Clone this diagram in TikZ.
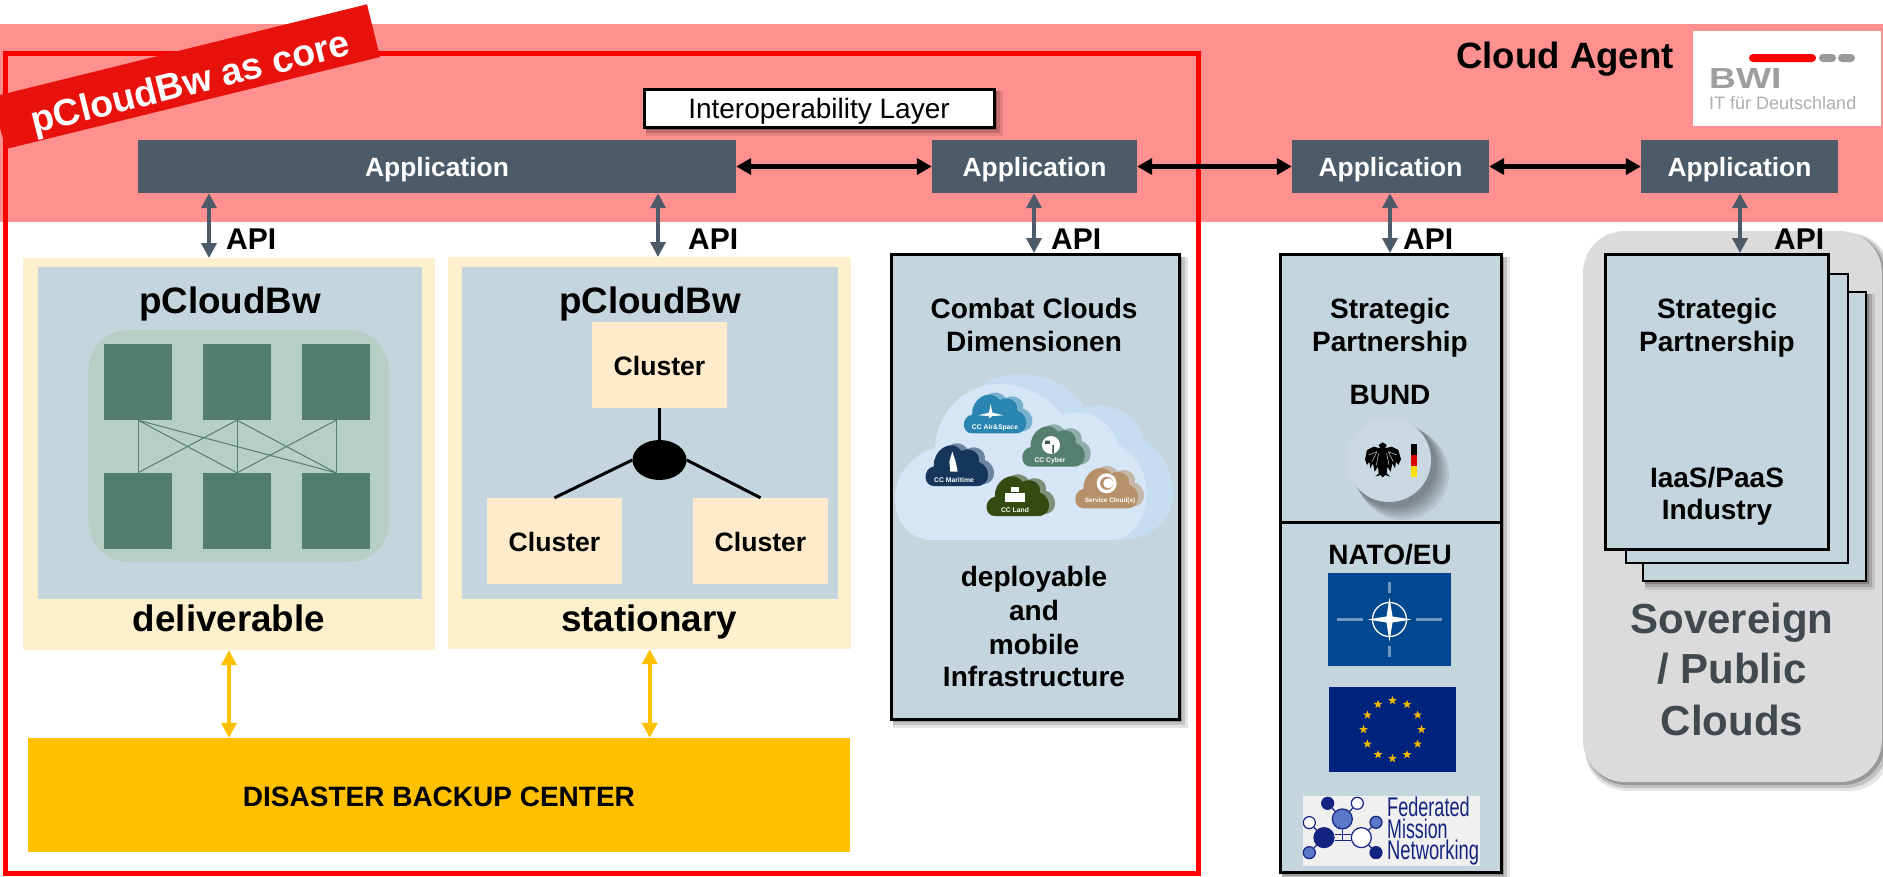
\documentclass[tikz,border=0pt]{standalone}
\usepackage{fontspec}
\setmainfont{Liberation Sans}
\usetikzlibrary{arrows.meta,shapes.geometric,calc}
\definecolor{pinkband}{HTML}{FF9090}
\definecolor{redline}{HTML}{FF0000}
\definecolor{bannerred}{HTML}{E8120C}
\definecolor{slate}{HTML}{4D5B69}
\definecolor{creampanel}{HTML}{FEF0CD}
\definecolor{bluepanel}{HTML}{C5D5DE}
\definecolor{greenpanel}{HTML}{B5CFC4}
\definecolor{greenbox}{HTML}{537D6C}
\definecolor{clusterbox}{HTML}{FFEACC}
\definecolor{amber}{HTML}{FFC000}
\definecolor{greypanel}{HTML}{DBDBDB}
\definecolor{greytext}{HTML}{404A4E}
\definecolor{natoblue}{HTML}{004990}
\definecolor{natoline}{HTML}{6F98C4}
\definecolor{eublue}{HTML}{00247D}
\definecolor{eustar}{HTML}{F2B800}
\definecolor{fmnnavy}{HTML}{14237F}
\definecolor{fmnblue}{HTML}{5B78C8}
\definecolor{fmnback}{HTML}{F0F0F0}
\definecolor{cloudfront}{HTML}{D6E6F6}
\definecolor{cloudback}{HTML}{C6DCF0}
\definecolor{ccair}{HTML}{2A86B0}
\definecolor{cccyber}{HTML}{557F6E}
\definecolor{ccsea}{HTML}{16365C}
\definecolor{ccland}{HTML}{344A10}
\definecolor{ccservice}{HTML}{B69068}
\newcommand{\fsz}[1]{\fontsize{#1}{#1}\selectfont}
\newcommand{\cloudpath}{(.14,1) .. controls (-.03,1) and (-.04,.6) .. (.14,.55) .. controls (.12,.2) and (.4,-.12) .. (.58,.2) .. controls (.68,.1) and (.88,.2) .. (.85,.45) .. controls (1.05,.55) and (1.05,1) .. (.82,1) -- cycle}
\newcommand{\smallcloud}[5]{%
  \begin{scope}[shift={(#1+6,#2-2)},x=#3pt,y=-#4pt]
    \fill[#5!55!cloudfront] \cloudpath;
  \end{scope}
  \begin{scope}[shift={(#1,#2)},x=#3pt,y=-#4pt]
    \fill[#5] \cloudpath;
  \end{scope}}
\newcommand{\softrect}[5][]{%
  \fill[black,opacity=.10,#1] (#2+2,#3+2) rectangle (#4+9,#5+9);
  \fill[black,opacity=.15,#1] (#2+2,#3+2) rectangle (#4+6,#5+6);
  \fill[black,opacity=.22,#1] (#2+2,#3+2) rectangle (#4+3,#5+3);}
\tikzset{
  x=1pt,y=-1pt,
  appbox/.style={fill=slate,draw=none,text=white,font=\bfseries\fsz{26.4},inner sep=0pt,text height=19pt,text depth=0pt},
  apilabel/.style={font=\bfseries\fsz{30},anchor=base west,inner sep=0pt},
  apiarrow/.style={draw=slate,line width=4pt,{Triangle[length=15pt,width=15pt]}-{Triangle[length=15pt,width=15pt]}},
  linkarrow/.style={draw=black,line width=4.6pt,{Triangle[length=15pt,width=16pt]}-{Triangle[length=15pt,width=16pt]}},
  amberarrow/.style={draw=amber,line width=3.8pt,{Triangle[length=15pt,width=15pt]}-{Triangle[length=15pt,width=15pt]}},
  cream/.style={fill=creampanel,draw=none,inner sep=0pt},
  bluebox/.style={fill=bluepanel,draw=none,inner sep=0pt},
  framedbox/.style={fill=bluepanel,draw=black,line width=3pt,inner sep=0pt},
  darkbox/.style={fill=greenbox,draw=none,inner sep=0pt},
  meshline/.style={draw=greenbox,line width=1pt},
  clusternode/.style={fill=clusterbox,draw=none,font=\bfseries\fsz{26.6},inner sep=0pt,text height=20pt,text depth=0pt},
  treeline/.style={draw=black,line width=3pt},
  heading/.style={font=\bfseries\fsz{36.8},inner sep=0pt,anchor=base},
  midtext/.style={font=\bfseries\fsz{28},inner sep=0pt,anchor=base},
  bigtext/.style={font=\bfseries\fsz{42},text=greytext,inner sep=0pt,anchor=base},
  cloudtext/.style={font=\bfseries\fsz{6.8},text=white,inner sep=0pt},
  logotext/.style={inner sep=0pt,anchor=base west},
  fmndisc/.style={circle,draw=fmnnavy,line width=1.2pt,inner sep=0pt},
  fmnlink/.style={draw=fmnnavy,line width=1.2pt},
  fmntext/.style={font=\fsz{27},text=fmnnavy,inner sep=0pt,anchor=base west},
  eustarnode/.style={star,star points=5,star point ratio=2.4,fill=eustar,draw=none,inner sep=0pt,minimum size=9pt},
  flagcross/.style={draw=natoline,line width=2.7pt},
}
\begin{document}
\begin{tikzpicture}
\useasboundingbox (0,0) rectangle (1883,876);
% cloud agent band
\fill[pinkband] (0,24) rectangle (1883,222);
% sovereign panel
\softrect[rounded corners=42pt]{1583}{231}{1882}{782}
\node[fill=greypanel,draw=none,rounded corners=42pt,inner sep=0pt,minimum width=299pt,minimum height=551pt] (sovpanel) at (1732.5,506.5) {};
% pcloud frame
\draw[redline,line width=5pt] (5,53.5) rectangle (1198,873.5);
% banner
\fill[bannerred] (367,4.3) -- (380,57) -- (6,149) -- (0,128) -- (0,95) -- cycle;
\node[rotate=14,text=white,font=\bfseries\fsz{37.5},inner sep=0pt] (banner) at (191,85) {pCloudBw as core};
% title and logo
\node[font=\bfseries\fsz{36.6},anchor=base west,inner sep=0pt] (agent) at (1456,68) {Cloud Agent};
\fill[white] (1693,31) rectangle (1881,126);
\fill[redline,rounded corners=4pt] (1749,54) rectangle (1816,62);
\fill[black!40,rounded corners=4pt] (1819,54) rectangle (1836,62);
\fill[black!40,rounded corners=4pt] (1838,54) rectangle (1855,62);
\node[logotext,text=black!38,font=\bfseries\fsz{29}] (bwi) at (1709,88) {\scalebox{1.28}[1]{BWI}};
\node[logotext,text=black!32,font=\fsz{18}] (deutsch) at (1709,109) {IT für Deutschland};
% interoperability layer
\softrect{644}{89}{994}{127}
\node[fill=white,draw=black,line width=3pt,font=\fsz{28},inner sep=0pt,text height=20.6pt,text depth=0pt,minimum width=350pt,minimum height=38pt] (interop) at (819,108) {Interoperability Layer};
% applications
\node[appbox,minimum width=598pt,minimum height=53pt] (app1) at (437,166.5) {Application};
\node[appbox,minimum width=205pt,minimum height=53pt] (app2) at (1034.5,166.5) {Application};
\node[appbox,minimum width=197pt,minimum height=53pt] (app3) at (1390.5,166.5) {Application};
\node[appbox,minimum width=197pt,minimum height=53pt] (app4) at (1739.5,166.5) {Application};
\draw[linkarrow] (app1.east) -- (app2.west);
\draw[linkarrow] (app2.east) -- (app3.west);
\draw[linkarrow] (app3.east) -- (app4.west);
% deliverable panel
\node[cream,minimum width=412pt,minimum height=392pt] (panelA) at (229,454) {};
\node[bluebox,minimum width=384pt,minimum height=332pt] (innerA) at (230,433) {};
\node[heading] (titleA) at (230,313) {pCloudBw};
\node[heading] (deliv) at (229,631) {deliverable};
\node[fill=greenpanel,rounded corners=40pt,inner sep=0pt,minimum width=300.5pt,minimum height=232pt] (green) at (238.7,446) {};
\foreach \n/\cx in {a/138,b/237,c/336}{
  \node[darkbox,minimum width=68pt,minimum height=76pt] (t\n) at (\cx,382) {};
  \node[darkbox,minimum width=68pt,minimum height=76pt] (u\n) at (\cx,511) {};
}
\foreach \p/\q in {a/a,b/b,c/c,a/b,b/a,b/c,c/b,a/c}{
  \draw[meshline] (t\p.south) -- (u\q.north);
}
% stationary panel
\node[cream,minimum width=403.5pt,minimum height=392pt] (panelB) at (649.7,453) {};
\node[bluebox,minimum width=376pt,minimum height=332pt] (innerB) at (650,433) {};
\node[heading] (titleB) at (650,313) {pCloudBw};
\node[heading] (stat) at (649,631) {stationary};
\node[clusternode,minimum width=135pt,minimum height=86pt] (c1) at (659.5,365) {Cluster};
\node[clusternode,minimum width=135pt,minimum height=86pt] (c2) at (554.5,541) {Cluster};
\node[clusternode,minimum width=135pt,minimum height=86pt] (c3) at (760.5,541) {Cluster};
\node[ellipse,fill=black,inner sep=0pt,minimum width=54pt,minimum height=40pt] (hub) at (659.5,460) {};
\draw[treeline] (c1.south) -- (hub.north);
\draw[treeline] (hub.west) -- (c2.north);
\draw[treeline] (hub.east) -- (c3.north);
% backup
\node[fill=amber,font=\bfseries\fsz{28},inner sep=0pt,text height=22pt,text depth=0pt,minimum width=822pt,minimum height=114pt] (backup) at (439,795) {DISASTER BACKUP CENTER};
\draw[amberarrow] (panelA.south) -- (backup.north -| panelA.south);
\draw[amberarrow] (panelB.south) -- (backup.north -| panelB.south);
% combat clouds
\softrect{891}{254.5}{1179}{719}
\node[framedbox,minimum width=288pt,minimum height=464.5pt] (combat) at (1035,486.75) {};
\node[midtext] (cc1) at (1034,318) {Combat Clouds};
\node[midtext] (cc2) at (1034,351) {Dimensionen};
\begin{scope}[shift={(880,370)},x=.3333pt,y=-.3333pt]
  \fill[cloudback] (300,510) -- (720,510) .. controls (810,510) and (880,450) .. (880,370) .. controls (880,300) and (840,235) .. (790,210) .. controls (780,140) and (700,90) .. (612,110) .. controls (575,50) and (500,12) .. (430,12) .. controls (390,12) and (350,20) .. (310,40) -- cycle;
  \fill[cloudfront] (160,510) .. controls (90,510) and (45,460) .. (45,385) .. controls (45,310) and (100,250) .. (165,235) .. controls (170,120) and (260,45) .. (350,42) .. controls (430,42) and (510,80) .. (545,135) .. controls (590,115) and (690,130) .. (715,225) .. controls (770,250) and (800,310) .. (800,370) .. controls (800,450) and (750,510) .. (690,510) -- cycle;
\end{scope}
\smallcloud{963.3}{391.7}{63.3}{41.7}{ccair}
\smallcloud{1021.7}{423.3}{63.3}{43.3}{cccyber}
\smallcloud{925}{442.3}{63.3}{43.7}{ccsea}
\smallcloud{986}{473.3}{63.3}{42.7}{ccland}
\smallcloud{1074.7}{465}{63.7}{43.3}{ccservice}
\node[cloudtext] (lblair) at (995,427.7) {CC Air\&Space};
\node[cloudtext] (lblcyber) at (1050,460.7) {CC Cyber};
\node[cloudtext] (lblsea) at (954,480) {CC Maritime};
\node[cloudtext] (lblland) at (1015,510.3) {CC Land};
\node[cloudtext,font=\bfseries\fsz{6.4}] (lblservice) at (1110,501.3) {Service Cloud(s)};
% cloud icons
\begin{scope}[shift={(880,370)},x=.3333pt,y=-.3333pt]
  \fill[white] (332,102) -- (337,128) -- (370,136) -- (338,138) -- (326,145) -- (328,138) -- (295,136) -- (327,128) -- cycle;
  \fill[white] (513,225) circle (9pt);
  \fill[cccyber!70!black] (495,212) rectangle (510,222) (517,225) rectangle (522,250);
  \fill[white] (217,245) -- (227,275) -- (233,305) -- (211,305) -- (208,275) -- cycle;
  \fill[white] (375,370) rectangle (435,395);
  \fill[white] (392,352) rectangle (418,366);
  \fill[white] (680,340) circle (10pt);
  \fill[ccservice] (680,340) circle (6.5pt);
  \fill[white] (685,340) circle (5pt);
\end{scope}
\node[midtext] (cc3) at (1034,586) {deployable};
\node[midtext] (cc4) at (1034,620) {and};
\node[midtext] (cc5) at (1034,654) {mobile};
\node[midtext] (cc6) at (1034,686) {Infrastructure};
% strategic partnership box
\softrect{1280}{254.5}{1501}{872.5}
\node[framedbox,minimum width=221pt,minimum height=618pt] (strat) at (1390.5,563.5) {};
\coordinate (divider) at (1390,522.7);
\draw[black,line width=3pt] (strat.west |- divider) -- (strat.east |- divider);
\node[midtext] (s1) at (1390,318) {Strategic};
\node[midtext] (s2) at (1390,351) {Partnership};
\node[midtext] (s3) at (1390,404) {BUND};
\foreach \d/\r in {14/46,12/45.5,10/45,8/44.5,6/44,4/43.5}{
  \fill[black,opacity=.07] (1389+\d,460+\d) circle (\r pt);
}
\node[circle,fill=bluepanel!92!white,inner sep=0pt,minimum size=84pt] (seal) at (1389,460) {};
\begin{scope}[shift={(1270,400)},x=.3333pt,y=-.3333pt]
  \fill[black] (338,127) -- (350,135) -- (345,145) -- (365,140) -- (385,150) -- (393,178) -- (385,195) -- (378,185) -- (375,205) -- (367,190) -- (362,215) -- (352,200) -- (350,220) -- (360,230) -- (345,225) -- (338,232) -- (331,225) -- (316,230) -- (326,220) -- (324,200) -- (314,215) -- (309,190) -- (301,205) -- (298,185) -- (291,195) -- (285,178) -- (291,150) -- (311,140) -- (331,145) -- (326,135) -- cycle;
  \draw[bluepanel,line width=.5pt] (355,155) -- (370,185) (355,155) -- (380,165) (321,155) -- (306,185) (321,155) -- (296,165) (350,160) -- (357,195) (326,160) -- (319,195);
\end{scope}
\fill[black] (1411,444) rectangle (1417,455);
\fill[red!85!black] (1411,455) rectangle (1417,466);
\fill[yellow!80!orange] (1411,466) rectangle (1417,477);
\node[midtext] (nato) at (1390,564) {NATO/EU};
% NATO flag
\node[fill=natoblue,inner sep=0pt,minimum width=123pt,minimum height=93pt] (flagnato) at (1389.5,619.5) {};
\draw[flagcross] (1337,619.5) -- (1363,619.5);
\draw[flagcross] (1416,619.5) -- (1442,619.5);
\draw[flagcross] (1389.5,582) -- (1389.5,593);
\draw[flagcross] (1389.5,646) -- (1389.5,657);
\draw[white,line width=1.3pt] (1389.5,619.5) circle (17pt);
\fill[white] (1389.5,597.5) -- (1392.5,616.5) -- (1411.5,619.5) -- (1392.5,622.5) -- (1389.5,641.5) -- (1386.5,622.5) -- (1367.5,619.5) -- (1386.5,616.5) -- cycle;
% EU flag
\node[fill=eublue,inner sep=0pt,minimum width=127pt,minimum height=85pt] (flageu) at (1392.5,729.5) {};
\foreach \k in {0,...,11}{
  \node[eustarnode] (eu\k) at ($(flageu.center)+({29*cos(30*\k)},{29*sin(30*\k)})$) {};
}
% FMN logo
\fill[fmnback] (1303,796) rectangle (1480,866);
\begin{scope}[shift={(1270,400)},x=.3333pt,y=-.3333pt]
  \node[fmndisc,fill=fmnnavy,minimum size=20pt] (f1) at (162,1313) {};
  \node[fmndisc,fill=fmnblue,minimum size=20pt] (f2) at (217,1257) {};
  \node[fmndisc,fill=white,minimum size=20pt] (f3) at (274,1313) {};
  \node[fmndisc,fill=fmnnavy,minimum size=12pt] (f4) at (173,1210) {};
  \node[fmndisc,fill=white,minimum size=12pt] (f5) at (262,1210) {};
  \node[fmndisc,fill=white,minimum size=12pt] (f6) at (118,1268) {};
  \node[fmndisc,fill=fmnblue,minimum size=12pt] (f7) at (318,1267) {};
  \node[fmndisc,fill=fmnblue,minimum size=12pt] (f8) at (118,1358) {};
  \node[fmndisc,fill=fmnnavy,minimum size=12pt] (f9) at (318,1358) {};
\end{scope}
\foreach \a/\b in {f4/f2,f5/f2,f6/f1,f8/f1,f7/f3,f9/f3}{\draw[fmnlink] (\a) -- (\b);}
\draw[fmnlink] ([yshift=-3pt]f1.east) -- ([yshift=-3pt]f3.west);
\draw[fmnlink] ([yshift=3pt]f1.east) -- ([yshift=3pt]f3.west);
\draw[fmnlink] (f2.south) -- ([yshift=-3pt]f2.south |- f3.west);
\node[fmntext] (fmn1) at (1387,816.7) {\scalebox{.67}[1]{Federated}};
\node[fmntext] (fmn2) at (1387,838) {\scalebox{.66}[1]{Mission}};
\node[fmntext] (fmn3) at (1387,859.5) {\scalebox{.68}[1]{Networking}};
% sovereign stack
\softrect{1643}{292}{1866}{581}
\node[framedbox,line width=2.7pt,minimum width=223pt,minimum height=289pt] (stack3) at (1754.5,436.5) {};
\node[framedbox,line width=2.7pt,minimum width=222pt,minimum height=289pt] (stack2) at (1737,418.5) {};
\node[framedbox,minimum width=223pt,minimum height=294.5pt] (stack1) at (1716.5,401.75) {};
\node[midtext] (p1) at (1717,318) {Strategic};
\node[midtext] (p2) at (1717,351) {Partnership};
\node[midtext] (p3) at (1717,487) {IaaS/PaaS};
\node[midtext] (p4) at (1717,519) {Industry};
\node[bigtext] (sv1) at (1732,633) {Sovereign};
\node[bigtext] (sv2) at (1732,683) {/ Public};
\node[bigtext] (sv3) at (1732,735) {Clouds};
% API connectors
\coordinate (apiA) at (209,258);
\coordinate (apiB) at (658,257);
\coordinate (apiC) at (1034,253);
\coordinate (apiD) at (1390,253);
\coordinate (apiE) at (1740,253);
\draw[apiarrow] (app1.south -| apiA) -- (apiA);
\draw[apiarrow] (app1.south -| apiB) -- (apiB);
\draw[apiarrow] (app2.south -| apiC) -- (apiC);
\draw[apiarrow] (app3.south -| apiD) -- (apiD);
\draw[apiarrow] (app4.south -| apiE) -- (apiE);
\node[apilabel] (api1) at (226,249) {API};
\node[apilabel] (api2) at (688,249) {API};
\node[apilabel] (api3) at (1051,249) {API};
\node[apilabel] (api4) at (1403,249) {API};
\node[apilabel] (api5) at (1774,249) {API};
\end{tikzpicture}
\end{document}
